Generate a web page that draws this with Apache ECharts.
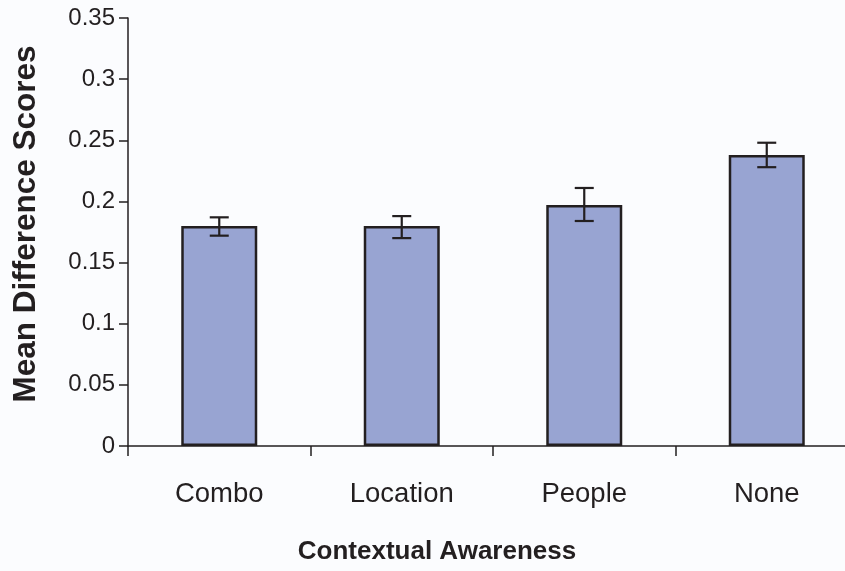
<!DOCTYPE html>
<html>
<head>
<meta charset="utf-8">
<script src="https://cdn.jsdelivr.net/npm/echarts@6/dist/echarts.min.js"></script>
<style>
html,body{margin:0;padding:0;background:#fbfcfe;}
#chart{width:845px;height:571px;}
</style>
</head>
<body>
<div id="chart"></div>
<script>
const categories = ['Combo', 'Location', 'People', 'None'];
const means = [0.180, 0.180, 0.197, 0.238];
const errLow = [0.172, 0.170, 0.184, 0.228];
const errHigh = [0.187, 0.188, 0.211, 0.248];
const yTicks = [0, 0.05, 0.1, 0.15, 0.2, 0.25, 0.3, 0.35];
const xTitle = 'Contextual Awareness';
const yTitle = 'Mean Difference Scores';

const chart = echarts.init(document.getElementById('chart'));
const font = '"Liberation Sans", Arial, sans-serif';
const errData = categories.map((c, i) => [i, errLow[i], errHigh[i]]);

chart.setOption({
  backgroundColor: '#fbfcfe',
  animation: false,
  grid: { left: 128, top: 18, height: 428, width: 730, containLabel: false, outerBoundsMode: 'none' },
  xAxis: {
    type: 'category',
    data: categories,
    boundaryGap: true,
    axisLine: { lineStyle: { color: '#231f20', width: 1.5 } },
    axisTick: { show: true, length: 10, alignWithLabel: false, lineStyle: { color: '#231f20', width: 1.5 } },
    axisLabel: { color: '#231f20', fontFamily: font, fontSize: 27.5, margin: 34 },
    splitLine: { show: false }
  },
  yAxis: {
    type: 'value',
    min: yTicks[0],
    max: yTicks[yTicks.length - 1],
    interval: 0.05,
    axisLine: { show: true, lineStyle: { color: '#231f20', width: 1.5 } },
    axisTick: { show: true, length: 9, lineStyle: { color: '#231f20', width: 1.5 } },
    axisLabel: { color: '#231f20', fontFamily: font, fontSize: 24, margin: 13,
      formatter: v => String(+v.toFixed(2)) },
    splitLine: { show: false }
  },
  graphic: [
    { type: 'text', x: 437, y: 552, style: { text: xTitle, font: 'bold 26px ' + font, fill: '#231f20', align: 'center', verticalAlign: 'middle' } },
    { type: 'text', x: 26, y: 224, rotation: Math.PI / 2, style: { text: yTitle, font: 'bold 31.5px ' + font, fill: '#231f20', align: 'center', verticalAlign: 'middle' } }
  ],
  series: [
    {
      type: 'bar',
      data: means,
      barWidth: 76,
      itemStyle: { color: '#98a4d2', borderColor: '#231f20', borderWidth: 2.5 }
    },
    {
      type: 'custom',
      data: errData,
      z: 10,
      renderItem: function (params, api) {
        const x = api.value(0);
        const lo = api.coord([x, api.value(1)]);
        const hi = api.coord([x, api.value(2)]);
        const hw = 9.5;
        const st = { stroke: '#231f20', lineWidth: 2.2 };
        return {
          type: 'group',
          children: [
            { type: 'line', shape: { x1: lo[0], y1: lo[1], x2: hi[0], y2: hi[1] }, style: st },
            { type: 'line', shape: { x1: lo[0] - hw, y1: lo[1], x2: lo[0] + hw, y2: lo[1] }, style: st },
            { type: 'line', shape: { x1: hi[0] - hw, y1: hi[1], x2: hi[0] + hw, y2: hi[1] }, style: st }
          ]
        };
      }
    }
  ]
});
</script>
</body>
</html>
